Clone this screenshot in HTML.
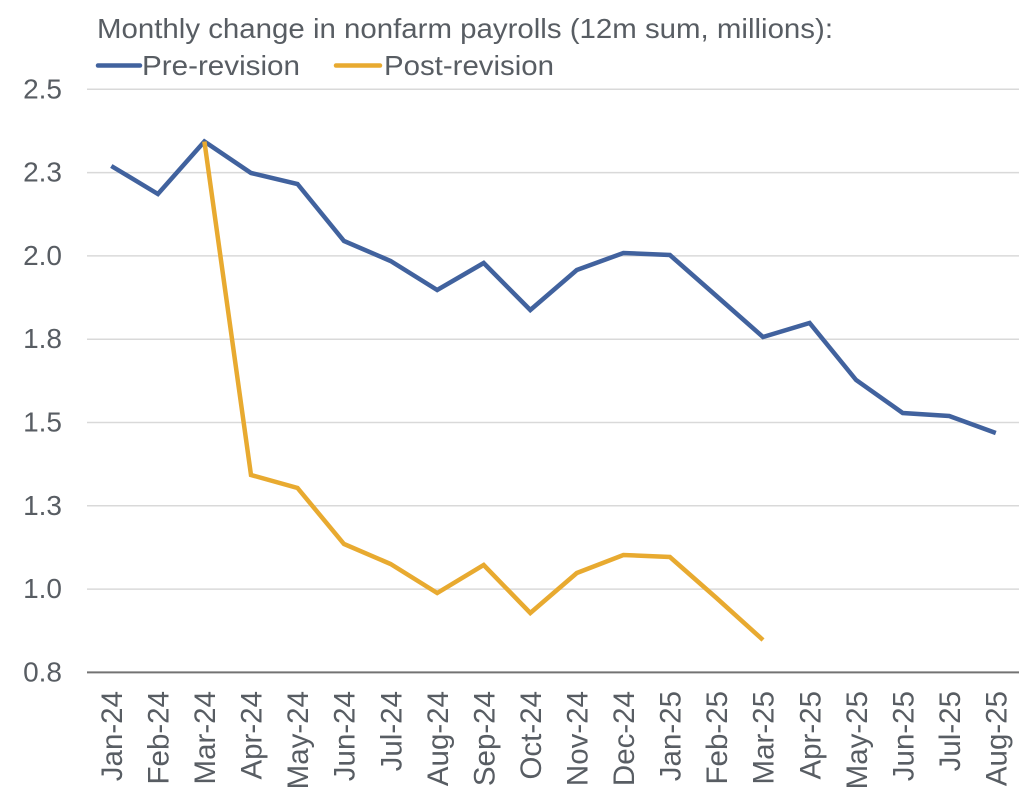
<!DOCTYPE html>
<html>
<head>
<meta charset="utf-8">
<style>
  html, body { margin: 0; padding: 0; background: #ffffff; }
  svg { display: block; }
  text { font-family: "Liberation Sans", sans-serif; fill: #585d63; }
</style>
</head>
<body>
<svg width="1024" height="800" viewBox="0 0 1024 800" xmlns="http://www.w3.org/2000/svg">
  <rect width="1024" height="800" fill="#ffffff"/>

  <!-- Title -->
  <text x="97" y="38" font-size="28" textLength="736" lengthAdjust="spacingAndGlyphs">Monthly change in nonfarm payrolls (12m sum, millions):</text>

  <!-- Legend -->
  <line x1="98" y1="65.5" x2="140" y2="65.5" stroke="#41629e" stroke-width="4.5" stroke-linecap="round"/>
  <text x="142" y="75" font-size="28" textLength="158" lengthAdjust="spacingAndGlyphs">Pre-revision</text>
  <line x1="336" y1="65.5" x2="380" y2="65.5" stroke="#e8aa30" stroke-width="4.5" stroke-linecap="round"/>
  <text x="384" y="75" font-size="28" textLength="170" lengthAdjust="spacingAndGlyphs">Post-revision</text>

  <!-- Gridlines -->
  <g stroke="#d9d9d9" stroke-width="1.5">
    <line x1="87" y1="89.3" x2="1019" y2="89.3"/>
    <line x1="87" y1="172.6" x2="1019" y2="172.6"/>
    <line x1="87" y1="255.9" x2="1019" y2="255.9"/>
    <line x1="87" y1="339.2" x2="1019" y2="339.2"/>
    <line x1="87" y1="422.5" x2="1019" y2="422.5"/>
    <line x1="87" y1="505.8" x2="1019" y2="505.8"/>
    <line x1="87" y1="589.1" x2="1019" y2="589.1"/>
  </g>
  <line x1="87" y1="672.4" x2="1019" y2="672.4" stroke="#737373" stroke-width="2"/>

  <!-- Y labels -->
  <g font-size="28" text-anchor="end">
    <text x="62" y="98.3">2.5</text>
    <text x="62" y="181.6">2.3</text>
    <text x="62" y="264.9">2.0</text>
    <text x="62" y="348.2">1.8</text>
    <text x="62" y="431.5">1.5</text>
    <text x="62" y="514.8">1.3</text>
    <text x="62" y="598.1">1.0</text>
    <text x="62" y="681.4">0.8</text>
  </g>

  <!-- Series -->
  <polyline fill="none" stroke="#41629e" stroke-width="4.5" stroke-linejoin="miter" stroke-linecap="butt"
    points="111.3,166 157.9,194 204.4,141.5 251,173 297.5,184 344,241 390.6,261 437.2,290 483.7,263 530.3,310 576.8,270 623.4,253 669.9,255 716.5,296 763,337 809.6,323 856.1,380 902.7,413 949.2,416 995.8,433"/>
  <polyline fill="none" stroke="#e8aa30" stroke-width="4.5" stroke-linejoin="miter" stroke-linecap="butt"
    points="204.4,141.5 251,475 297.5,488 344,544 390.6,564 437.2,593 483.7,565 530.3,613 576.8,573 623.4,555 669.9,557 716.5,598 763,640"/>

  <!-- X labels -->
  <g font-size="29.5" text-anchor="end">
    <text transform="translate(122,691) rotate(-90)">Jan-24</text>
    <text transform="translate(168.6,691) rotate(-90)">Feb-24</text>
    <text transform="translate(215.1,691) rotate(-90)">Mar-24</text>
    <text transform="translate(261.7,691) rotate(-90)">Apr-24</text>
    <text transform="translate(308.2,691) rotate(-90)">May-24</text>
    <text transform="translate(354.7,691) rotate(-90)">Jun-24</text>
    <text transform="translate(401.3,691) rotate(-90)">Jul-24</text>
    <text transform="translate(447.9,691) rotate(-90)">Aug-24</text>
    <text transform="translate(494.4,691) rotate(-90)">Sep-24</text>
    <text transform="translate(541,691) rotate(-90)">Oct-24</text>
    <text transform="translate(587.5,691) rotate(-90)">Nov-24</text>
    <text transform="translate(634.1,691) rotate(-90)">Dec-24</text>
    <text transform="translate(680.6,691) rotate(-90)">Jan-25</text>
    <text transform="translate(727.2,691) rotate(-90)">Feb-25</text>
    <text transform="translate(773.7,691) rotate(-90)">Mar-25</text>
    <text transform="translate(820.3,691) rotate(-90)">Apr-25</text>
    <text transform="translate(866.8,691) rotate(-90)">May-25</text>
    <text transform="translate(913.4,691) rotate(-90)">Jun-25</text>
    <text transform="translate(959.9,691) rotate(-90)">Jul-25</text>
    <text transform="translate(1006.5,691) rotate(-90)">Aug-25</text>
  </g>
</svg>
</body>
</html>
